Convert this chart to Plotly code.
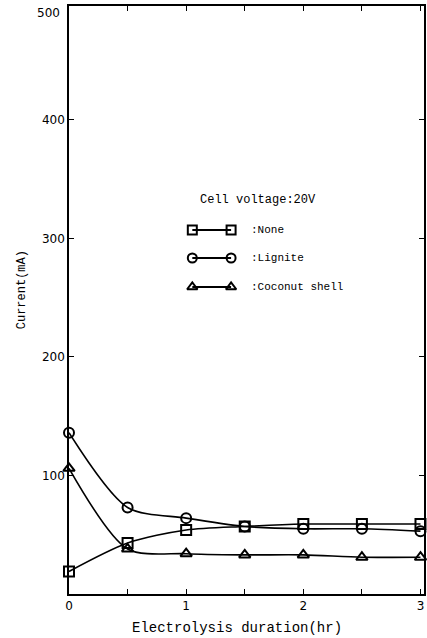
import plotly.graph_objects as go

# Electrolysis current vs. time for three additives, cell voltage 20 V
hours = [0, 0.5, 1, 1.5, 2, 2.5, 3]
none_mA = [19, 43, 54, 57, 59, 59, 59]
lignite_mA = [136, 73, 64, 57, 55, 55, 53]
coconut_mA = [106, 38, 34, 33, 33, 31, 31]

series_names = [":None", ":Lignite", ":Coconut shell"]
series_symbols = ["square-open", "circle-open", "triangle-up-open"]
series_values = [none_mA, lignite_mA, coconut_mA]

x_ticks = [0, 0.5, 1, 1.5, 2, 2.5, 3]
x_tick_text = ["0", "", "1", "", "2", "", "3"]
y_ticks = [100, 200, 300, 400]

W, H = 427, 638
ML, MR, MT, MB = 69, 1, 6, 44
PW, PH = W - ML - MR, H - MT - MB

MONO = "Liberation Mono"
SANS = "DejaVu Sans"


def px_to_paper(px, py):
    return (px - ML) / PW, (H - MB - py) / PH


fig = go.Figure()

for vals, sym in zip(series_values, series_symbols):
    fig.add_trace(go.Scatter(
        x=hours, y=vals, mode="lines+markers",
        line=dict(color="black", width=1.6, shape="spline", smoothing=0.8),
        marker=dict(symbol=sym, size=10, color="black", line=dict(width=2, color="black")),
        cliponaxis=False, showlegend=False,
    ))

# Key drawn on a pixel-scaled overlay axis pair
key_rows = [230, 258, 287]
for name, sym, yy in zip(series_names, series_symbols, key_rows):
    fig.add_trace(go.Scatter(
        x=[193, 232], y=[yy, yy], xaxis="x2", yaxis="y2", mode="lines+markers",
        line=dict(color="black", width=2),
        marker=dict(symbol=sym, size=9, color="black", line=dict(width=2, color="black")),
        showlegend=False, hoverinfo="skip",
    ))
    fig.add_annotation(x=250, y=yy, xref="x2", yref="y2", text=name, showarrow=False,
                       xanchor="left", yanchor="middle",
                       font=dict(family=MONO, size=11, color="black"))

fig.add_annotation(x=199, y=200, xref="x2", yref="y2", text="Cell voltage:20V",
                   showarrow=False, xanchor="left", yanchor="middle",
                   font=dict(family=MONO, size=12, color="black"))

# Axis titles and the top y label, placed in paper space outside the plot area
px_, py_ = px_to_paper(238, 628)
fig.add_annotation(x=px_, y=py_, xref="paper", yref="paper", text="Electrolysis duration(hr)",
                   showarrow=False, xanchor="center", yanchor="middle",
                   font=dict(family=MONO, size=14, color="black"))
px_, py_ = px_to_paper(22, 290)
fig.add_annotation(x=px_, y=py_, xref="paper", yref="paper", text="Current(mA)", textangle=-90,
                   showarrow=False, xanchor="center", yanchor="middle",
                   font=dict(family=MONO, size=12, color="black"))
px_, py_ = px_to_paper(62, 13)
fig.add_annotation(x=px_, y=py_, xref="paper", yref="paper", text="500",
                   showarrow=False, xanchor="right", yanchor="middle",
                   font=dict(family=SANS, size=12, color="black"))

axis_common = dict(showgrid=False, zeroline=False, showline=True, linecolor="black",
                   linewidth=1.5, mirror="allticks", ticks="inside", ticklen=5,
                   tickcolor="black", tickwidth=1.2,
                   tickfont=dict(family=SANS, size=12, color="black"))

fig.update_layout(
    width=W, height=H,
    margin=dict(l=ML, r=MR, t=MT, b=MB),
    paper_bgcolor="white", plot_bgcolor="white",
    xaxis=dict(range=[0, 3.03], tickvals=x_ticks, ticktext=x_tick_text, **axis_common),
    yaxis=dict(range=[0, 496], tickvals=y_ticks, **axis_common),
    xaxis2=dict(overlaying="x", range=[ML, W - MR], visible=False, fixedrange=True),
    yaxis2=dict(overlaying="y", range=[H - MB, MT], visible=False, fixedrange=True),
)

fig.write_html("out.html")
